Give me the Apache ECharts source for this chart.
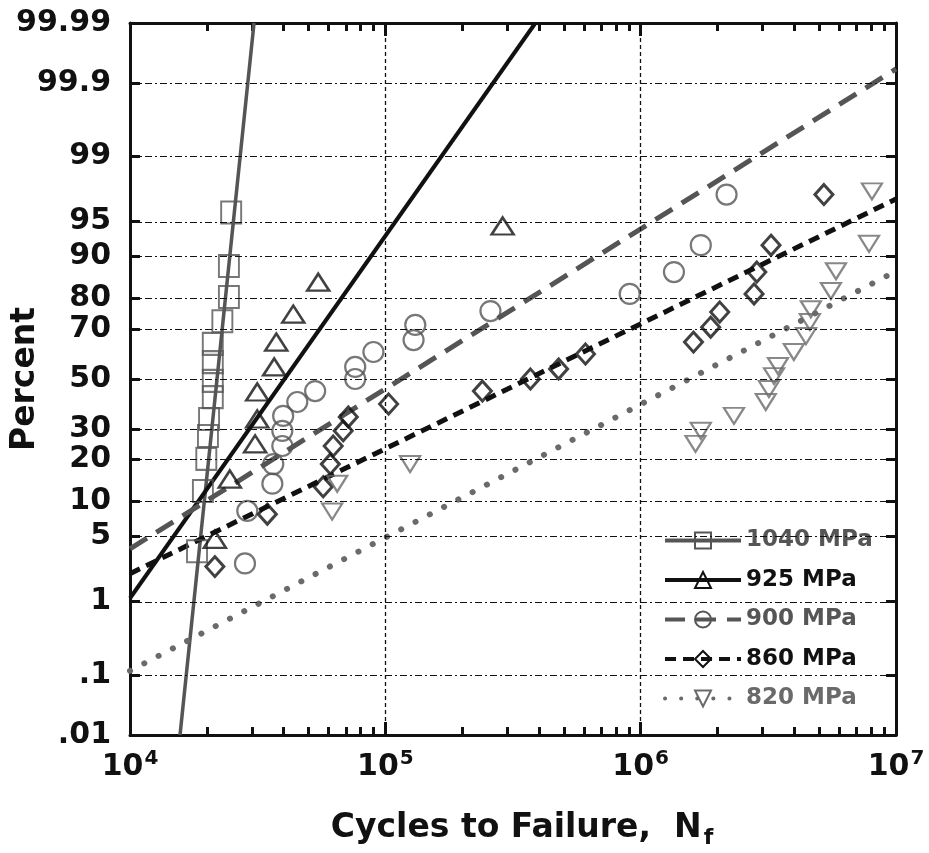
<!DOCTYPE html>
<html>
<head>
<meta charset="utf-8">
<script src="https://cdn.jsdelivr.net/npm/echarts@6/dist/echarts.min.js"></script>
<style>
  html, body { margin: 0; padding: 0; background: #fff; }
  #chart { width: 929px; height: 853px; }
</style>
</head>
<body>
<div id="chart"></div>
<script>
// Probability-axis ticks (percent) and cycle decades
const percentTicks = [0.01, 0.1, 1, 5, 10, 20, 30, 50, 70, 80, 90, 95, 99, 99.9, 99.99];
const percentTickText = ['.01', '.1', '1', '5', '10', '20', '30', '50', '70', '80', '90', '95', '99', '99.9', '99.99'];
const percentGrid = [0.1, 1, 5, 10, 20, 30, 50, 70, 80, 90, 95, 99, 99.9];
const cycleDecades = [1e4, 1e5, 1e6, 1e7];
const cycleGrid = [1e5, 1e6];

// 1040 MPa
const cycles1040 = [18300, 19300, 19900, 20200, 20400, 21100, 21100, 21100, 21100, 23000, 24400, 24400, 24900];
const percent1040 = [3.6, 12.1, 20.2, 27.6, 33.8, 42.5, 49.2, 57.0, 64.3, 72.7, 80.4, 88.1, 95.9];
const fitCycles1040 = [15700, 30600];
const fitPercent1040 = [0.01, 99.99];

// 925 MPa
const cycles925 = [21500, 24600, 30900, 31500, 31500, 36700, 37400, 43600, 54600, 288000];
const percent925 = [4.7, 14.8, 24.9, 33.8, 44.6, 55.0, 65.0, 75.1, 84.4, 94.5];
const fitCycles925 = [10000, 387000];
const fitPercent925 = [1.1, 99.99];

// 900 MPa
const cycles900 = [28200, 28800, 36100, 36400, 39500, 39500, 39800, 45200, 53100, 76200, 76200, 89800, 129000, 131000, 258000, 906000, 1350000, 1720000, 2170000];
const percent900 = [2.7, 8.4, 13.7, 18.7, 24.2, 29.4, 35.0, 40.5, 45.0, 50.0, 55.0, 61.1, 65.8, 71.4, 76.1, 81.3, 86.8, 91.9, 97.3];
const fitCycles900 = [10000, 10000000];
const fitPercent900 = [3.8, 99.94];

// 860 MPa
const cycles860 = [21500, 34500, 57100, 60900, 62500, 68400, 71600, 103000, 240000, 370000, 477000, 608000, 1610000, 1880000, 2040000, 2780000, 2850000, 3240000, 5220000];
const percent860 = [2.5, 7.9, 13.0, 18.7, 24.2, 29.4, 34.6, 39.7, 45.0, 50.0, 54.2, 60.3, 65.0, 70.6, 75.8, 81.3, 86.8, 91.9, 97.3];
const fitCycles860 = [10000, 10000000];
const fitPercent860 = [2.1, 97.0];

// 820 MPa
const cycles820 = [61900, 64800, 125000, 1640000, 1720000, 2320000, 3090000, 3180000, 3330000, 3450000, 3980000, 4440000, 4600000, 4640000, 5560000, 5820000, 7840000, 8050000];
const percent820 = [8.3, 13.7, 18.7, 24.9, 29.4, 35.0, 40.5, 45.8, 51.2, 55.4, 61.1, 67.3, 72.4, 76.7, 82.1, 87.0, 92.1, 97.5];
const fitCycles820 = [10000, 10000000];
const fitPercent820 = [0.115, 87.0];

// inverse standard normal CDF (normal probability paper scale)
function probit(p) {
  const a = [-3.969683028665376e+01, 2.209460984245205e+02, -2.759285104469687e+02, 1.383577518672690e+02, -3.066479806614716e+01, 2.506628277459239e+00];
  const b = [-5.447609879822406e+01, 1.615858368580409e+02, -1.556989798598866e+02, 6.680131188771972e+01, -1.328068155288572e+01];
  const c = [-7.784894002430293e-03, -3.223964580411365e-01, -2.400758277161838e+00, -2.549732539343734e+00, 4.374664141464968e+00, 2.938163982698783e+00];
  const d = [7.784695709041462e-03, 3.224671290700398e-01, 2.445134137142996e+00, 3.754408661907416e+00];
  const pl = 0.02425;
  let q, r;
  if (p < pl) {
    q = Math.sqrt(-2 * Math.log(p));
    return (((((c[0]*q+c[1])*q+c[2])*q+c[3])*q+c[4])*q+c[5]) / ((((d[0]*q+d[1])*q+d[2])*q+d[3])*q+1);
  }
  if (p > 1 - pl) {
    q = Math.sqrt(-2 * Math.log(1 - p));
    return -(((((c[0]*q+c[1])*q+c[2])*q+c[3])*q+c[4])*q+c[5]) / ((((d[0]*q+d[1])*q+d[2])*q+d[3])*q+1);
  }
  q = p - 0.5; r = q * q;
  return (((((a[0]*r+a[1])*r+a[2])*r+a[3])*r+a[4])*r+a[5])*q / (((((b[0]*r+b[1])*r+b[2])*r+b[3])*r+b[4])*r+1);
}
const toZ = pct => probit(pct / 100);
const pairs = (xs, ps) => xs.map((x, i) => [x, toZ(ps[i])]);

const FONT = 'DejaVu Sans';
const GRAY = '#555555';
const LIGHT = '#6a6a6a';
const BLACK = '#111111';

const zMin = toZ(percentTicks[0]);
const zMax = toZ(percentTicks[percentTicks.length - 1]);
const zTicks = percentTicks.map(toZ);

// minor tick positions along the cycle axis, in log10 units
const minorLog = [];
for (let e = 4; e < 7; e++) for (let k = 2; k <= 9; k++) minorLog.push(Math.log10(k * Math.pow(10, e)));
const majorLog = cycleDecades.map(v => Math.log10(v));

function fitSeries(name, xs, ps, color, type, width, symbol, rotate, cap) {
  return {
    name, type: 'line', data: pairs(xs, ps),
    showSymbol: false, symbol, symbolRotate: rotate || 0,
    lineStyle: { color, width, type, cap: cap || 'butt' },
    itemStyle: { color: 'rgba(0,0,0,0)', borderColor: color, borderWidth: 2 },
    silent: true, z: 3
  };
}
function pointSeries(name, xs, ps, color, symbol, symbolSize, rotate, bw) {
  return {
    name, type: 'scatter', data: pairs(xs, ps),
    symbol, symbolSize, symbolRotate: rotate || 0,
    itemStyle: { color: 'rgba(0,0,0,0)', borderColor: color, borderWidth: bw || 2 },
    z: 4
  };
}
function tickAxis(position, values, length) {
  return {
    type: 'value', min: 4, max: 7, position,
    axisLine: { show: false, onZero: false }, axisLabel: { show: false }, splitLine: { show: false },
    axisTick: { show: true, inside: true, length, customValues: values, lineStyle: { color: '#111', width: 3 } }
  };
}

const chart = echarts.init(document.getElementById('chart'), null, { renderer: 'canvas' });

const gridLineStyle = { color: '#111', width: 1.2, type: [7, 3, 2, 3] };

chart.setOption({
  backgroundColor: '#fff',
  animation: false,
  grid: { left: 130, right: 33, top: 23, bottom: 118, outerBoundsMode: 'none', containLabel: false },
  xAxis: [
    {
      type: 'log', logBase: 10, min: 1e4, max: 1e7, position: 'bottom',
      name: '{t|Cycles to Failure,  N}{sub|f}', nameLocation: 'middle', nameGap: 72,
      nameMoveOverlap: false,
      nameTextStyle: { padding: [0, 0, 0, 18], rich: {
        t: { fontFamily: FONT, fontWeight: 'bold', fontSize: 33, color: '#111' },
        sub: { fontFamily: FONT, fontWeight: 'bold', fontSize: 22, color: '#111', padding: [20, 0, 0, 2] }
      } },
      axisLine: { show: true, onZero: false, lineStyle: { color: '#111', width: 3 } },
      axisTick: { show: false },
      splitLine: { show: false },
      axisLabel: {
        margin: 14,
        formatter: v => '{b|10}{s|' + Math.round(Math.log10(v)) + '}',
        rich: {
          b: { fontFamily: FONT, fontWeight: 'bold', fontSize: 30, color: '#111' },
          s: { fontFamily: FONT, fontWeight: 'bold', fontSize: 20, color: '#111', padding: [0, 0, 16, 1] }
        }
      }
    },
    {
      type: 'log', logBase: 10, min: 1e4, max: 1e7, position: 'top',
      axisLine: { show: true, onZero: false, lineStyle: { color: '#111', width: 3 } },
      axisTick: { show: false }, axisLabel: { show: false }, splitLine: { show: false }
    },
    tickAxis('bottom', minorLog, 8),
    tickAxis('top', minorLog, 8),
    tickAxis('bottom', majorLog, 13),
    tickAxis('top', majorLog, 13)
  ],
  yAxis: [
    {
      type: 'value', min: zMin, max: zMax, position: 'left',
      name: 'Percent', nameLocation: 'middle', nameGap: 88, nameRotate: 90,
      nameMoveOverlap: false,
      nameTextStyle: { fontFamily: FONT, fontWeight: 'bold', fontSize: 33, color: '#111' },
      axisLine: { show: true, onZero: false, lineStyle: { color: '#111', width: 3 } },
      axisTick: { show: true, inside: true, length: 10, customValues: zTicks, lineStyle: { color: '#111', width: 3 } },
      splitLine: { show: false },
      axisLabel: {
        margin: 19, customValues: zTicks,
        fontFamily: FONT, fontWeight: 'bold', fontSize: 30, color: '#111',
        formatter: v => {
          let best = 0;
          zTicks.forEach((z, i) => { if (Math.abs(z - v) < Math.abs(zTicks[best] - v)) best = i; });
          return percentTickText[best];
        }
      }
    },
    {
      type: 'value', min: zMin, max: zMax, position: 'right',
      axisLine: { show: true, onZero: false, lineStyle: { color: '#111', width: 3 } },
      axisTick: { show: true, inside: true, length: 10, customValues: zTicks, lineStyle: { color: '#111', width: 3 } },
      axisLabel: { show: false }, splitLine: { show: false }
    }
  ],
  legend: {
    orient: 'vertical', left: 658, top: 524,
    itemWidth: 76, itemHeight: 20, itemGap: 16.5,
    lineStyle: { width: 4 },
    itemStyle: { borderWidth: 2 },
    textStyle: { fontFamily: FONT, fontWeight: 'bold', fontSize: 23 },
    data: [
      { name: '1040 MPa', textStyle: { color: GRAY } },
      { name: '925 MPa', textStyle: { color: BLACK } },
      { name: '900 MPa', textStyle: { color: GRAY } },
      { name: '860 MPa', textStyle: { color: BLACK } },
      { name: '820 MPa', textStyle: { color: LIGHT } }
    ]
  },
  series: [
    {
      name: 'grid', type: 'line', data: [], silent: true, z: 1,
      markLine: {
        silent: true, symbol: 'none', animation: false, label: { show: false },
        data: percentGrid.map(p => ({ yAxis: toZ(p), lineStyle: gridLineStyle }))
          .concat(cycleGrid.map(c => ({ xAxis: c, lineStyle: { color: '#111', width: 1.3, type: [4, 3] } })))
      }
    },
    fitSeries('1040 MPa', fitCycles1040, fitPercent1040, GRAY, 'solid', 3.5, 'rect', 0),
    fitSeries('925 MPa', fitCycles925, fitPercent925, BLACK, 'solid', 4, 'triangle', 0),
    fitSeries('900 MPa', fitCycles900, fitPercent900, GRAY, [20, 11], 5, 'circle', 0),
    fitSeries('860 MPa', fitCycles860, fitPercent860, BLACK, [11, 7], 5, 'diamond', 0),
    fitSeries('820 MPa', fitCycles820, fitPercent820, LIGHT, [0.1, 16], 6, 'triangle', 180, 'round'),
    pointSeries('1040 MPa points', cycles1040, percent1040, GRAY, 'rect', [20, 22], 0, 2),
    pointSeries('925 MPa points', cycles925, percent925, BLACK, 'triangle', [22, 17], 0, 2.5),
    pointSeries('900 MPa points', cycles900, percent900, GRAY, 'circle', 20, 0, 2.2),
    pointSeries('860 MPa points', cycles860, percent860, BLACK, 'diamond', [18, 20], 0, 3),
    pointSeries('820 MPa points', cycles820, percent820, LIGHT, 'triangle', [20, 16], 180, 2.2)
  ]
});
</script>
</body>
</html>
